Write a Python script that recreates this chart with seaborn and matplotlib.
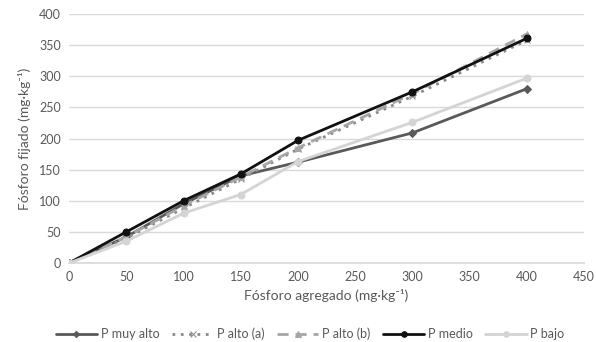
import matplotlib
matplotlib.use("Agg")
import matplotlib.pyplot as plt
import seaborn as sns
import pandas as pd

x_vals = [0, 50, 100, 150, 200, 300, 400]
p_muy_alto = [0, 42, 95, 140, 162, 209, 280]
p_alto_a = [0, 40, 88, 135, 183, 268, 358]
p_alto_b = [0, 42, 92, 138, 185, 272, 368]
p_medio = [0, 50, 100, 143, 197, 275, 361]
p_bajo = [0, 35, 80, 110, 163, 226, 297]

series_names = ["P muy alto", "P alto (a)", "P alto (b)", "P medio", "P bajo"]
series_vals = [p_muy_alto, p_alto_a, p_alto_b, p_medio, p_bajo]

sns.set_theme(style="white")
plt.rcParams['font.family'] = ['Lato', 'DejaVu Sans']

styles = {
    "P muy alto": dict(color="#595959", ls="-", marker="D", ms=4, lw=2.0),
    "P alto (a)": dict(color="#8a8a8a", ls=(0, (1, 2)), marker="x", ms=5, lw=2.0),
    "P alto (b)": dict(color="#a6a6a6", ls=(0, (4, 2.5)), marker="^", ms=5, lw=2.0),
    "P medio": dict(color="#111111", ls="-", marker="o", ms=5, lw=2.0),
    "P bajo": dict(color="#d4d4d4", ls="-", marker="o", ms=5, lw=2.0),
}

fig = plt.figure(figsize=(5.96, 3.42), dpi=100)
ax = fig.add_axes([0.116, 0.231, 0.864, 0.728])

for name, vals in zip(series_names, series_vals):
    df = pd.DataFrame({"x": x_vals, "y": vals})
    st = styles[name]
    sns.lineplot(data=df, x="x", y="y", ax=ax, color=st["color"], linestyle=st["ls"],
                 marker=st["marker"], markersize=st["ms"], linewidth=st["lw"],
                 markeredgecolor=st["color"], markerfacecolor=st["color"], label=name)

ax.set_xlim(0, 450)
ax.set_ylim(0, 400)
ax.set_xticks(range(0, 451, 50))
ax.set_yticks(range(0, 401, 50))
ax.grid(axis="y", color="#d9d9d9", linewidth=1)
ax.grid(axis="x", visible=False)
for s in ["top", "right", "left"]:
    ax.spines[s].set_visible(False)
ax.spines["bottom"].set_color("#d9d9d9")
ax.tick_params(axis="both", colors="#595959", labelsize=9, length=0, pad=6)
ax.set_xlabel("Fósforo agregado (mg·kg⁻¹)", color="#595959", fontsize=10, labelpad=4)
ax.set_ylabel("Fósforo fijado (mg·kg⁻¹)", color="#595959", fontsize=10, labelpad=6)

leg = ax.legend(loc="upper center", bbox_to_anchor=(0.468, -0.215), ncol=5, frameon=False,
                fontsize=9, handlelength=3.3, columnspacing=1.0, handletextpad=0.3, markerscale=0.8)
for t in leg.get_texts():
    t.set_color("#595959")

fig.savefig("out.png", dpi=100)
